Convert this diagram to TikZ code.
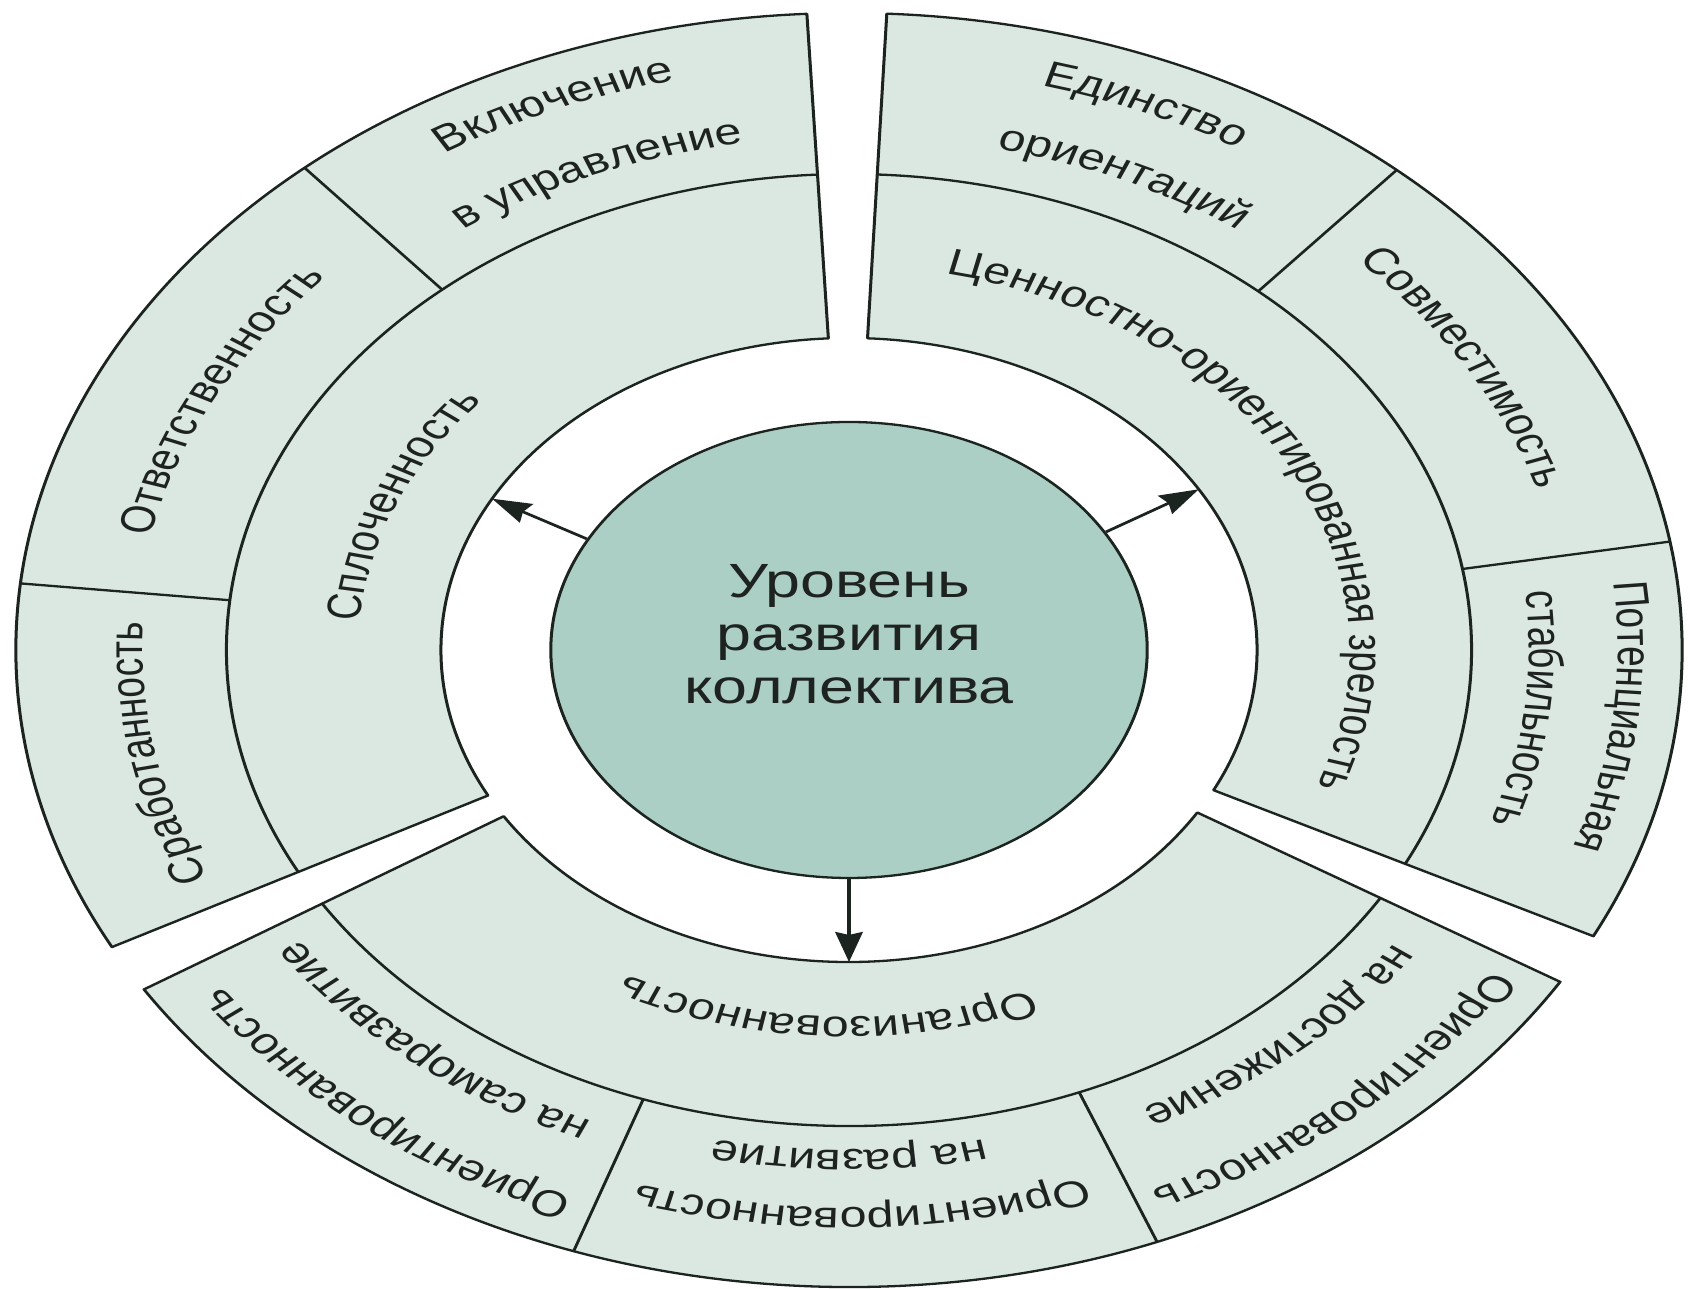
\documentclass[tikz,border=0pt]{standalone}
\usepackage{fontspec}
\setmainfont{Liberation Sans}
\usetikzlibrary{decorations.text,arrows.meta}
\definecolor{ringfill}{HTML}{DBE8E1}
\definecolor{corefill}{HTML}{ABCFC4}
\definecolor{edge}{HTML}{1C2420}
\definecolor{ink}{HTML}{1E2321}
\newcommand\rfont{\fontsize{37}{44}\selectfont}
% annular sector from angle #1 to #2 (circle space), radii 312 / 476 / 637
\newcommand\ringsector[2]{%
  \filldraw[ringcell] ({312*cos(#1)},{312*sin(#1)}) -- ({637*cos(#1)},{637*sin(#1)})
    arc[start angle=#1,end angle=#2,radius=637] -- ({312*cos(#2)},{312*sin(#2)})
    arc[start angle=#2,end angle=#1,radius=312] -- cycle;
  \draw[ringline] ({476*cos(#1)},{476*sin(#1)}) arc[start angle=#1,end angle=#2,radius=476];}
\newcommand\ringdivider[1]{%
  \draw[ringline] ({476*cos(#1)},{476*sin(#1)}) -- ({637*cos(#1)},{637*sin(#1)});}
% text along a clockwise arc: centre angle, baseline radius, half span, text
\newcommand\ringtext[4]{%
  \path[decorate,decoration={text along path,text={|\rfont|#4},text align=center,text color=ink}]
    ({#2*cos(#1+#3)},{#2*sin(#1+#3)}) arc[start angle={#1+#3},end angle={#1-#3},radius=#2];}
\tikzset{
  ringcell/.style={fill=ringfill,draw=edge,line width=2.3,line join=round},
  ringline/.style={draw=edge,line width=2.3},
  arrowline/.style={draw=edge,line width=2.6,-{Stealth[length=30pt,width=21pt,inset=3pt]}},
}
\begin{document}
\begin{tikzpicture}[x=1pt,y=1pt]
\useasboundingbox (0,0) rectangle (1690,1289);
\fill[white] (0,0) rectangle (1690,1289);
\begin{scope}[transform canvas={shift={(849,639)},xscale=1.308}]
  % three exploded sectors
  \ringsector{92.9}{207.8}
  \ringsector{212.2}{328.6}
  \ringsector{-26.7}{87.4}
  % outer cell dividers
  \ringdivider{130.8}
  \ringdivider{174}
  \ringdivider{48.9}
  \ringdivider{9.8}
  \ringdivider{250.7}
  \ringdivider{291.7}
  % middle ring labels
  \ringtext{157}{375}{65}{Сплоченность}
  \ringtext{29}{383}{65}{Ценностно-ориентированная зрелость}
  \ringtext{267.3}{367}{65}{Организованность}
  % outer ring labels
  \ringtext{152.5}{546}{40}{Ответственность}
  \ringtext{191}{540}{40}{Сработанность}
  \ringtext{112.5}{585}{40}{Включение}
  \ringtext{112}{513}{40}{в управление}
  \ringtext{67.4}{583}{40}{Единство}
  \ringtext{66}{514}{40}{ориентаций}
  \ringtext{31}{550}{40}{Совместимость}
  \ringtext{-6.5}{588}{40}{Потенциальная}
  \ringtext{-6.5}{520}{40}{стабильность}
  \ringtext{232}{586}{40}{Ориентированность}
  \ringtext{231}{511}{40}{на саморазвитие}
  \ringtext{271}{558}{40}{Ориентированность}
  \ringtext{270}{500}{40}{на развитие}
  \ringtext{310}{587}{40}{Ориентированность}
  \ringtext{310.4}{510}{40}{на достижение}
  % centre
  \node[circle,draw=edge,line width=2.3,fill=corefill,minimum size=456,inner sep=0pt] (core) at (0,0) {};
  \node[font=\fontsize{48}{53}\selectfont,align=center,text=ink] (corelabel) at (0,16) {Уровень\\развития\\коллектива};
  \coordinate (tipA) at ({312*cos(151)},{312*sin(151)});
  \coordinate (tipB) at ({312*cos(31)},{312*sin(31)});
  \coordinate (tipC) at (0,-312);
  \draw[arrowline] (core) -- (tipA);
  \draw[arrowline] (core) -- (tipB);
  \draw[arrowline] (core) -- (tipC);
\end{scope}
\end{tikzpicture}
\end{document}
